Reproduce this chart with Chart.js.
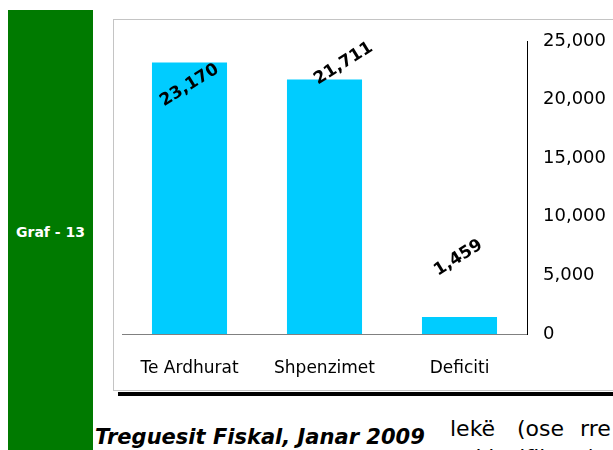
<!DOCTYPE html>
<html><head><meta charset="utf-8">
<script src="https://cdn.jsdelivr.net/npm/chart.js@4/dist/chart.umd.min.js"></script>
<style>
html,body{margin:0;padding:0;background:#fff;width:613px;height:450px;overflow:hidden;position:relative}
#green{position:absolute;left:8px;top:10px;width:85px;height:440px;background:#007A00}
#glabel{position:absolute;left:8px;width:85px;top:224px;line-height:14px;text-align:center;color:#fff;font:bold 14px "DejaVu Sans"}
#frame{position:absolute;left:113px;top:19px;width:520px;height:372px;border:1px solid #c4c4c4;box-sizing:border-box;background:#fff}
#shadow{position:absolute;left:118px;top:392px;width:500px;height:4px;background:#000}
#cap{position:absolute;left:95px;top:425px;line-height:21px;white-space:nowrap;font:italic bold 21px "DejaVu Sans";color:#000}
.w{position:absolute;line-height:22px;white-space:nowrap;font:22px "DejaVu Sans";color:#000}
#c{position:absolute;left:0;top:0}
</style></head>
<body>
<div id="green"></div>
<div id="glabel">Graf - 13</div>
<div id="frame"></div>
<div id="shadow"></div>
<div id="cap">Treguesit Fiskal, Janar 2009</div>
<div class="w" style="left:450px;top:416px">lekë</div>
<div class="w" style="left:517px;top:416px">(ose</div>
<div class="w" style="left:580px;top:416px">rre</div>
<div class="w" style="left:455px;top:445px">e klasifikuar)</div>
<canvas id="c" width="613" height="450"></canvas>
<script>
const categories = ["Te Ardhurat", "Shpenzimet", "Deficiti"];
const values = [23170, 21711, 1459];
const yTicks = [0, 5000, 10000, 15000, 20000, 25000];

const labelOffsets = [[0, 23], [19, -16], [-1, -59]];
const barLabels = {
  id: 'barLabels',
  afterDatasetsDraw(chart) {
    const ctx = chart.ctx;
    const meta = chart.getDatasetMeta(0);
    meta.data.forEach((bar, i) => {
      ctx.save();
      ctx.translate(bar.x + labelOffsets[i][0], bar.y + labelOffsets[i][1]);
      ctx.rotate(-32 * Math.PI / 180);
      ctx.font = 'bold 17px "DejaVu Sans"';
      ctx.textAlign = 'center';
      ctx.textBaseline = 'middle';
      ctx.fillStyle = '#000';
      ctx.fillText(values[i].toLocaleString('en-US'), 0, 0);
      ctx.restore();
    });
  }
};

new Chart(document.getElementById('c'), {
  type: 'bar',
  data: {
    labels: categories,
    datasets: [{
      data: values,
      backgroundColor: '#00CCFF',
      borderWidth: 0,
      barPercentage: 0.556,
      categoryPercentage: 1
    }]
  },
  options: {
    responsive: false,
    animation: false,
    layout: { padding: { left: 122, top: 41, right: 0, bottom: 0 } },
    plugins: { legend: { display: false }, tooltip: { enabled: false } },
    scales: {
      x: {
        grid: { display: false, drawTicks: false },
        border: { display: true, color: '#808080', width: 1 },
        ticks: { padding: 24, color: '#000', font: { family: 'DejaVu Sans', size: 17 } },
        afterFit(s) { s.height = 116; }
      },
      y: {
        position: 'right',
        min: 0, max: 25000,
        grid: { display: false, drawTicks: false },
        border: { display: true, color: '#000', width: 1 },
        afterBuildTicks(s) { s.ticks = yTicks.map(v => ({ value: v })); },
        ticks: {
          padding: 16, color: '#000',
          font: { family: 'DejaVu Sans', size: 18 },
          callback: v => Number(v).toLocaleString('en-US')
        },
        afterFit(s) { s.width = 86; }
      }
    }
  },
  plugins: [barLabels]
});
</script>
</body></html>
